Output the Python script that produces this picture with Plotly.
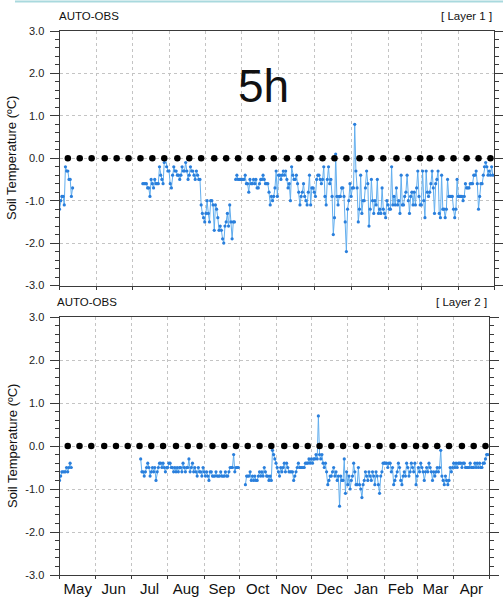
import pandas as pd
import plotly.graph_objects as go

# ---------------- data ----------------
months = ["May", "Jun", "Jul", "Aug", "Sep", "Oct", "Nov", "Dec", "Jan", "Feb", "Mar", "Apr"]
y_ticks = [-3.0, -2.0, -1.0, 0.0, 1.0, 2.0, 3.0]
y_tick_labels = ["-3.0", "-2.0", "-1.0", "0.0", "1.0", "2.0", "3.0"]
dekad_days = [8, 18, 28]
period_start = "2013-05-01"
period_end = "2014-05-01"

# Layer 1 daily soil temperature (deg C)
layer1_may_start = "2013-05-01"
layer1_may = [-1.2, -1.0, -0.9, -0.9, -1.1, -0.2, -0.3, -0.3, -0.5, -0.5, -0.9, -0.7]

layer1_summer_start = "2013-07-10"
layer1_summer = [
    -0.6, -0.6, -0.6, -0.6, -0.7, -0.7, -0.9, -0.5, -0.6, -0.7,
    -0.5, -0.6, -0.6, -0.6, -0.2, -0.4, -0.5, -0.6, -0.1, 0.0,
    -0.2, -0.3, -0.3, -0.6, -0.7, -0.4, -0.2, -0.3, -0.3, -0.4,
    -0.4, -0.5, -0.4, -0.2, -0.3, -0.3, -0.1, -0.3, -0.5, -0.4,
    -0.2, -0.3, -0.3, -0.4, -0.5, -0.3, -0.4, -0.5, -0.5, -1.1,
    -1.3, -1.4, -1.5, -1.3, -1.0, -1.3, -1.5, -1.0, -1.0, -1.1,
    -1.7, -1.1, -1.2, -1.4, -1.7, -1.6, -1.7, -1.9, -2.0, -1.6,
    -1.5, -1.3, -1.6, -1.1, -1.5, -1.9, -1.5, -1.5,
]

layer1_winter_start = "2013-09-26"
layer1_winter = [
    -0.5, -0.4, -0.5, -0.5, -0.5, -0.5, -0.5, -0.5, -0.4, -0.6, -0.6, -0.8, -0.5,
    -0.6, -0.6, -0.5, -0.6, -0.5, -0.7, -0.7, -0.6, -0.5, -0.5,
    -0.4, -0.5, -0.6, -0.6, -0.6, -0.8, -1.1, -0.9, -1.0, -0.9,
    -0.7, -0.3, -0.9, -0.4, -0.4, -0.5, -0.4, -0.3, -0.4, -0.3,
    -0.5, -0.7, -0.6, -1.0, -0.2, -0.4, -0.5, -0.5, -0.4, -0.6,
    -0.8, -1.1, -0.9, -0.8, -0.6, -0.9, -1.0, -1.1, -0.8, -0.4,
    -1.1, -0.7, -0.7, -0.8, -0.9, -0.5, -0.4, -0.4, -0.5, -0.6,
    -0.5, -0.2, -0.9, -1.1, -0.5, -0.2, -0.6, -0.5, -0.9, -1.8,
    -1.4, 0.1, -0.9, -1.1, -0.9, -0.9, -0.7, -0.7, -0.9, -1.5,
    -2.2, -1.2, -1.0, -0.6, -0.9, -0.7, -0.7, 0.8, -0.3, -0.7,
    -1.5, -1.2, -0.4, -1.3, -1.0, -1.0, -0.7, -0.3, -0.6, -1.6,
    -1.2, -0.5, -1.0, -1.3, -1.0, -1.1, -0.5, -1.3, -1.2, -1.3,
    -0.7, -1.2, -1.3, -1.4, -1.0, -1.1, -1.2, -1.2, -0.2, -1.1,
    -0.9, -1.1, -0.7, -1.1, -1.0, -1.3, -0.4, -1.1, -1.1, -0.9,
    -0.8, -0.4, -1.0, -1.3, -0.9, -0.8, -1.1, -0.8, -1.1, -0.7,
    -0.3, -0.9, -1.1, -1.1, -0.3, -1.0, -1.4, -0.3, -0.8, -0.9,
    -0.8, -0.6, -0.3, -0.7, -1.3, -0.6, -0.5, -0.3, -1.3, -1.4,
    -0.4, -1.2, -1.2, -1.4, -1.2, -0.5, -0.9, -0.9, -0.9, -0.9,
    -1.2, -1.4, -1.2, -0.5, -0.9, -0.9, -0.9, -0.9, -1.0, -0.9,
    -0.6, -0.7, -0.7, -0.7, -0.6, -0.6, -0.6, -0.4, -0.4, -0.3,
    -0.6, -1.2, -0.9, -0.6, -0.6, -0.4, -0.2, -0.1, -0.2, -0.4,
    -0.3, -0.4, -0.2, -0.4,
]

# Layer 2 daily soil temperature (deg C)
layer2_may_start = "2013-05-01"
layer2_may = [-0.8, -0.7, -0.6, -0.6, -0.6, -0.6, -0.5, -0.6, -0.5, -0.4, -0.5]

layer2_summer_start = "2013-07-09"
layer2_summer = [
    -0.3, -0.6, -0.6, -0.7, -0.6, -0.5, -0.4, -0.5, -0.7, -0.6,
    -0.5, -0.6, -0.5, -0.8, -0.6, -0.5, -0.4, -0.4, -0.5, -0.4,
    -0.5, -0.6, -0.5, -0.5, -0.4, -0.4, -0.5, -0.5, -0.6, -0.5,
    -0.6, -0.5, -0.6, -0.5, -0.5, -0.6, -0.4, -0.5, -0.6, -0.5,
    -0.5, -0.3, -0.6, -0.5, -0.4, -0.6, -0.5, -0.6, -0.7, -0.5,
    -0.6, -0.6, -0.7, -0.5, -0.6, -0.7, -0.6, -0.7, -0.8, -0.6,
    -0.6, -0.7, -0.7, -0.7, -0.6, -0.7, -0.7, -0.7, -0.6, -0.7,
    -0.7, -0.7, -0.6, -0.7, -0.7, -0.6, -0.5, -0.5, -0.5, -0.2,
    -0.6, -0.5, -0.5, -0.5,
]

layer2_winter_start = "2013-10-06"
layer2_winter = [
    -0.9, -0.7, -0.7,
    -0.7, -0.6, -0.8, -0.7, -0.8, -0.7, -0.8, -0.8, -0.7, -0.6,
    -0.7, -0.6, -0.7, -0.5, -0.6, -0.7, -0.7, -0.8, -0.7, -0.8,
    -0.1, -0.2, -0.3, -0.4, -0.5, -0.6, -0.7, -0.5, -0.6, -0.5,
    -0.4, -0.6, -0.4, -0.5, -0.6, -0.6, -0.6, -0.6, -0.8, -0.7,
    -0.6, -0.5, -0.4, -0.5, -0.5, -0.5, -0.5, -0.5, -0.4, -0.4,
    -0.4, -0.3, -0.4, -0.3, -0.4, -0.3, -0.3, -0.2, -0.3, 0.7,
    -0.2, -0.3, -0.2, -0.4, -0.5, -0.4, -0.6, -0.9, -0.8, -0.7,
    -0.7, -0.6, -0.5, -0.7, -0.6, -0.8, -0.7, -1.4, -0.7, -0.8,
    -0.8, -0.3, -1.1, -0.6, -0.9, -0.7, -1.0, -0.8, -0.7, -0.4,
    -0.6, -0.9, -0.9, -0.5, -0.9, -1.0, -1.2, -0.9, -0.8, -0.6,
    -0.7, -0.8, -0.6, -0.7, -0.8, -0.6, -0.7, -0.9, -0.6, -0.7,
    -0.9, -1.1, -0.7, -0.6, -0.4, -0.4, -0.4, -0.4, -0.5, -0.4,
    -0.4, -0.6, -0.5, -0.9, -0.8, -0.7, -0.6, -0.4, -0.5, -0.8,
    -0.9, -0.7, -0.6, -0.7, -0.4, -0.5, -0.7, -0.6, -0.4, -0.5,
    -0.6, -0.4, -0.9, -0.7, -0.5, -0.6, -0.4, -0.5, -0.6, -0.8,
    -0.6, -0.5, -0.6, -0.4, -0.5, -0.6, -0.8, -0.6, -0.7, -0.6,
    -0.5, -0.6, -0.5, -0.1, -0.7, -0.8, -0.9, -0.7, -0.8, -0.9,
    -0.8, -0.5, -0.6, -0.5, -0.4, -0.5, -0.4, -0.5, -0.4, -0.4,
    -0.4, -0.5, -0.4, -0.4, -0.5, -0.5, -0.5, -0.5, -0.4, -0.5,
    -0.5, -0.5, -0.4, -0.5, -0.4, -0.5, -0.4, -0.5, -0.5, -0.4,
    -0.4, -0.3, -0.2, -0.2,
]

# reference value at each dekad (0 deg C line)
dekad_value = 0.0

# ---------------- helpers ----------------
def build(segments):
    xs, ys = [], []
    for start, vals in segments:
        d = pd.date_range(start, periods=len(vals) + 1, freq="D").strftime("%Y-%m-%d").tolist()
        xs += d[:-1]
        ys += vals
        xs.append(d[-1])
        ys.append(None)
    return xs, ys

l1x, l1y = build([(layer1_may_start, layer1_may), (layer1_summer_start, layer1_summer),
                  (layer1_winter_start, layer1_winter)])
l2x, l2y = build([(layer2_may_start, layer2_may), (layer2_summer_start, layer2_summer),
                  (layer2_winter_start, layer2_winter)])

month_starts = pd.date_range(period_start, periods=13, freq="MS")
month_mid = [(month_starts[i] + (month_starts[i + 1] - month_starts[i]) / 2).strftime("%Y-%m-%d %H:%M")
             for i in range(12)]
dekad_dates = [(ms + pd.Timedelta(days=d - 1)).strftime("%Y-%m-%d")
               for ms in month_starts[:12] for d in dekad_days]
dekad_vals = [dekad_value for _ in dekad_dates]

W, H = 503, 600
FONT = "Liberation Sans, Arial, Helvetica, sans-serif"
AX = "#3a3a3a"
GRID = "#c4c4c4"
LINE_C = "#62aeee"
MARK_C = "#2a7fdc"

fig = go.Figure()
for xs, ys, xa, ya in [(l1x, l1y, "x", "y"), (l2x, l2y, "x2", "y2")]:
    fig.add_trace(go.Scatter(x=xs, y=ys, xaxis=xa, yaxis=ya, mode="lines+markers",
                             line=dict(color=LINE_C, width=1),
                             marker=dict(color=MARK_C, size=3.2),
                             connectgaps=False, hoverinfo="skip", showlegend=False))
    fig.add_trace(go.Scatter(x=dekad_dates, y=dekad_vals, xaxis=xa, yaxis=ya, mode="markers",
                             marker=dict(color="black", size=6.5),
                             hoverinfo="skip", showlegend=False))


def xaxis(domain, anchor, labels):
    return dict(domain=domain, anchor=anchor, type="date", range=[period_start, period_end],
                tickmode="array", tickvals=month_mid, ticktext=months,
                showticklabels=labels, ticks="", showgrid=False, zeroline=False,
                tickfont=dict(family=FONT, size=15, color="#111"),
                minor=dict(dtick="M1", tick0=period_start, ticks="outside", ticklen=3,
                           tickcolor=AX, showgrid=True, gridcolor=GRID, griddash="dot", gridwidth=1),
                showline=True, linecolor=AX, linewidth=1, mirror=True, automargin=False)


def yaxis(domain, anchor):
    return dict(domain=domain, anchor=anchor, range=[-3, 3], tickmode="array",
                tickvals=y_ticks, ticktext=y_tick_labels, ticks="outside", ticklen=9,
                tickcolor=AX, ticklabelstandoff=3,
                tickfont=dict(family=FONT, size=11, color="#222"),
                minor=dict(dtick=0.2, tick0=0, ticks="outside", ticklen=4, tickcolor=AX, showgrid=False),
                showgrid=True, gridcolor=GRID, griddash="dot", gridwidth=1, zeroline=False,
                showline=True, linecolor=AX, linewidth=1, mirror="allticks", automargin=False)


fig.update_layout(
    width=W, height=H, margin=dict(l=0, r=0, t=0, b=0),
    paper_bgcolor="white", plot_bgcolor="white", showlegend=False,
    xaxis=xaxis([59.5 / W, 494 / W], "y", False),
    yaxis=yaxis([1 - 285.5 / H, 1 - 31 / H], "x"),
    xaxis2=xaxis([59.5 / W, 489 / W], "y2", True),
    yaxis2=yaxis([1 - 575 / H, 1 - 317 / H], "x2"),
)

ann = [
    dict(text="AUTO-OBS", x=57 / W, y=1 - 16 / H, xanchor="left", size=11.5),
    dict(text="[ Layer 1 ]", x=494 / W, y=1 - 16 / H, xanchor="right", size=11.5),
    dict(text="AUTO-OBS", x=55 / W, y=1 - 302 / H, xanchor="left", size=11.5),
    dict(text="[ Layer 2 ]", x=489 / W, y=1 - 302 / H, xanchor="right", size=11.5),
    dict(text="5h", x=263 / W, y=1 - 86 / H, xanchor="center", size=46),
]
for a in ann:
    fig.add_annotation(text=a["text"], x=a["x"], y=a["y"], xref="paper", yref="paper",
                       xanchor=a["xanchor"], yanchor="middle", showarrow=False,
                       font=dict(family=FONT, size=a["size"], color="#111"))
for yc in [158, 446]:
    fig.add_annotation(text="Soil Temperature (ºC)", x=12 / W, y=1 - yc / H, xref="paper",
                       yref="paper", xanchor="center", yanchor="middle", textangle=-90,
                       showarrow=False, font=dict(family=FONT, size=13, color="#111"))

fig.add_shape(type="line", xref="paper", yref="paper", x0=15 / W, x1=1, y0=1 - 1.5 / H,
              y1=1 - 1.5 / H, line=dict(color="#a9d9de", width=2))

fig.write_html("out.html", config={"displayModeBar": False, "staticPlot": True},
               post_script="document.body.style.margin='0';document.body.style.overflow='hidden';")
